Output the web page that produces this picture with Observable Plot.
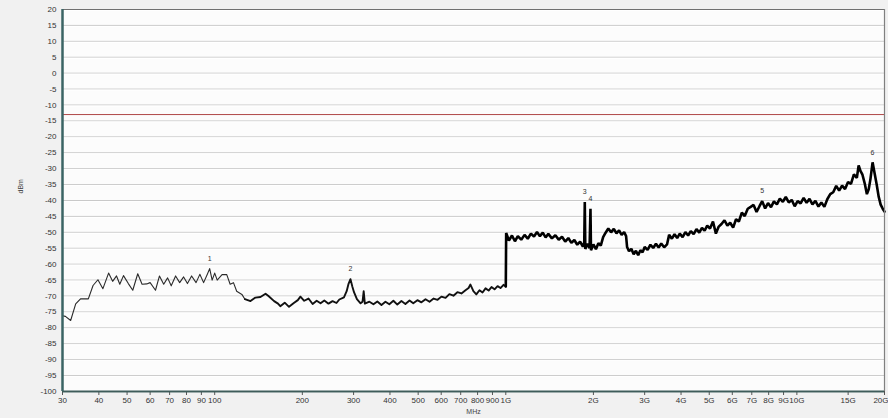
<!DOCTYPE html>
<html>
<head>
<meta charset="utf-8">
<script src="https://cdn.jsdelivr.net/npm/d3@7"></script>
<script src="https://cdn.jsdelivr.net/npm/@observablehq/plot@0.6"></script>
<style>
  html, body { margin: 0; padding: 0; background: #f1f1f1; }
  #chart { width: 888px; height: 418px; }
</style>
</head>
<body>
<div id="chart"></div>
<script>
// ---- data (frequency in MHz, level in dBm) ----
const xTickValues = [30,40,50,60,70,80,90,100,200,300,400,500,600,700,800,900,1000,2000,3000,4000,5000,6000,7000,8000,9000,10000,15000,20000];
const xTickLabels = ["30","40","50","60","70","80","90","100","200","300","400","500","600","700","800","900","1G","2G","3G","4G","5G","6G","7G","8G","9G","10G","15G","20G"];
const yTickValues = [20,15,10,5,0,-5,-10,-15,-20,-25,-30,-35,-40,-45,-50,-55,-60,-65,-70,-75,-80,-85,-90,-95,-100];
const limitLevel = [-13];

// 30 MHz – 125 MHz (thin trace)
const lowBand = [
  [30,-76.2],[30.7,-76.4],[32,-77.7],[33.3,-72.5],[34.6,-70.9],[36.8,-70.9],[38.2,-66.7],[39.7,-64.9],
  [41.3,-67.7],[43.2,-62.8],[44.6,-65.4],[46,-63.7],[47.2,-66.3],[48.6,-63.6],[50.5,-66.1],[52.3,-68.2],
  [54.4,-63.0],[56.3,-66.3],[58.4,-66.2],[60,-65.8],[62.6,-68.2],[64.6,-63.7],[66.8,-66.3],[68.9,-64.3],
  [70.9,-66.8],[73.4,-63.7],[75.8,-65.8],[78.2,-64.0],[80.6,-66.1],[83.3,-63.7],[86.3,-65.8],[88.9,-63.2],
  [91.6,-65.8],[94.5,-63.0],[96.1,-61.4],[98,-65.0],[100,-62.8],[102,-65.0],[106,-63.3],[110,-63.3],
  [113,-66.3],[116,-65.8],[119,-68.5],[124,-69.5],[127,-71.0]
];

// 125 MHz – 1 GHz
const midBand = [
  [127,-71.0],[132.7,-71.6],[138,-70.5],[143.6,-70.3],[149.5,-69.3],[153,-70.0],[160,-71.6],[165,-72.4],
  [168,-73.2],[174,-72.1],[180,-73.4],[187,-72.2],[193,-71.3],[197,-70.2],[203,-71.5],[210,-70.8],
  [217,-72.5],[224,-71.5],[231,-72.3],[238,-71.4],[246,-72.4],[254,-71.6],[262,-72.2],[268,-71.1],
  [278,-70.4],[284,-68.5],[288,-66.3],[292.7,-64.7],[297,-67.0],[301,-68.8],[308,-71.0],[317,-72.3],
  [322,-71.8],[325,-68.5],[328,-72.4],[340,-71.8],[351,-72.6],[362,-71.7],[374,-72.8],[386,-71.8],
  [398,-72.6],[411,-71.5],[424,-72.7],[438,-71.6],[452,-72.5],[467,-71.4],[481,-72.3],[497,-71.3],
  [513,-72.0],[530,-71.0],[547,-71.8],[565,-70.8],[583,-71.2],[601,-70.2],[621,-70.6],[640,-69.4],
  [661,-69.9],[682,-68.8],[704,-69.2],[727,-68.2],[745,-67.5],[756,-66.4],[774,-68.5],[792,-69.5],
  [812,-68.2],[832,-68.9],[852,-67.6],[873,-68.3],[893,-67.2],[915,-67.9],[937,-66.9],[959,-67.5],
  [982,-66.5],[1000,-67.0]
];

// 1 GHz – 20 GHz
const highBand = [
  [1000,-67.0],[1003,-50.2],[1025,-52.6],[1050,-51.0],[1075,-52.8],[1100,-51.2],[1130,-52.3],[1160,-50.8],
  [1190,-52.0],[1220,-50.4],[1250,-51.3],[1280,-49.9],[1310,-51.2],[1340,-50.1],[1370,-51.6],[1400,-50.5],
  [1440,-51.9],[1480,-50.9],[1520,-52.3],[1560,-51.4],[1600,-52.9],[1640,-51.8],[1680,-53.3],[1720,-52.4],
  [1760,-53.9],[1800,-52.9],[1840,-54.5],[1860,-53.2],[1868,-40.5],[1876,-55.2],[1910,-53.6],[1940,-55.0],
  [1954,-42.6],[1962,-55.6],[2000,-53.8],[2040,-55.3],[2080,-53.4],[2120,-54.2],[2160,-51.5],[2200,-50.2],
  [2250,-48.8],[2300,-50.0],[2350,-48.9],[2400,-50.3],[2450,-49.4],[2500,-50.8],[2550,-49.9],[2590,-51.2],
  [2610,-54.6],[2650,-55.9],[2700,-55.2],[2750,-56.9],[2800,-55.8],[2850,-57.2],[2900,-55.6],[2950,-56.3],
  [3000,-54.6],[3070,-55.5],[3140,-53.9],[3210,-54.9],[3280,-53.6],[3350,-54.8],[3420,-53.5],[3500,-54.7],
  [3580,-53.8],[3640,-50.8],[3720,-52.0],[3800,-50.6],[3880,-51.8],[3960,-50.4],[4050,-51.5],[4140,-49.9],
  [4230,-51.0],[4320,-49.6],[4420,-50.6],[4520,-49.0],[4620,-50.1],[4720,-48.6],[4820,-49.5],[4920,-47.9],
  [5030,-48.8],[5150,-46.6],[5270,-50.4],[5390,-48.2],[5510,-47.4],[5640,-46.2],[5770,-47.9],[5900,-47.0],
  [6040,-48.5],[6180,-45.9],[6320,-46.6],[6470,-43.8],[6620,-44.9],[6780,-42.6],[6940,-42.0],[7100,-41.4],
  [7270,-43.6],[7440,-41.8],[7600,-40.2],[7780,-42.5],[7960,-40.8],[8150,-42.1],[8340,-40.3],[8540,-41.2],
  [8740,-39.4],[8950,-40.4],[9160,-38.9],[9380,-40.6],[9600,-39.8],[9830,-41.8],[10060,-40.2],[10300,-40.9],
  [10550,-39.2],[10800,-40.7],[11050,-39.5],[11310,-41.2],[11580,-40.1],[11860,-41.9],[12140,-40.6],[12430,-42.0],
  [12720,-39.6],[13020,-38.0],[13330,-37.4],[13650,-35.4],[13970,-36.9],[14300,-35.3],[14640,-36.4],[14990,-34.2],
  [15340,-34.8],[15700,-31.8],[16070,-32.9],[16300,-29.0],[16550,-30.8],[16800,-31.9],[17100,-34.6],[17400,-38.0],
  [17650,-36.5],[17900,-33.2],[18200,-28.0],[18500,-31.5],[18800,-35.0],[19100,-38.8],[19400,-41.3],[19700,-42.5],
  [20000,-43.5]
];

const markerNames = ["1","2","3","4","5","6"];
const markerFreq  = [96.1, 292.7, 1868, 1954, 7600, 18200];
const markerLevel = [-61.4, -64.7, -40.5, -42.6, -40.2, -28.0];

// ---- build ----
const toRows = arr => arr.map(([f, v]) => ({f, v}));
const markers = markerNames.map((n, i) => ({n, f: markerFreq[i], v: markerLevel[i]}));
const xLabels = xTickValues.map((f, i) => ({f, t: xTickLabels[i], last: i === xTickValues.length - 1}));
const font = "'Liberation Sans', Arial, sans-serif";

const chart = Plot.plot({
  width: 888,
  height: 418,
  marginLeft: 62,
  marginRight: 4,
  marginTop: 9,
  marginBottom: 27,
  style: {background: "transparent", fontFamily: font, fontSize: "8px", color: "#333"},
  x: {type: "log", domain: [30, 20000]},
  y: {domain: [-100, 20]},
  marks: [
    Plot.frame({fill: "#fcfcfc", stroke: null}),
    Plot.ruleY(yTickValues, {stroke: "#c9c9c9", strokeWidth: 1}),
    Plot.ruleY(yTickValues, {stroke: "#ffffff", strokeWidth: 1, dy: 1}),
    Plot.ruleY(limitLevel, {stroke: "#b04848", strokeWidth: 1}),
    Plot.line(toRows(lowBand), {x: "f", y: "v", stroke: "#2a2a2a", strokeWidth: 1.1}),
    Plot.line(toRows(midBand), {x: "f", y: "v", stroke: "#111", strokeWidth: 1.9}),
    Plot.line(toRows(highBand), {x: "f", y: "v", stroke: "#000", strokeWidth: 2.6, strokeLinejoin: "miter"}),
    Plot.text(markers, {x: "f", y: "v", text: "n", dy: -10, fontSize: 7, fill: "#333"}),
    Plot.axisY({ticks: yTickValues, tickSize: 0, tickPadding: 6, tickFormat: d => String(d), label: null, fontSize: 8, fill: "#333"}),
    Plot.axisX({ticks: xTickValues, tickSize: 4, tickFormat: () => "", label: null, stroke: "#555"}),
    Plot.text(xLabels.filter(d => !d.last), {x: "f", text: "t", frameAnchor: "bottom", dy: 11, fontSize: 8, fill: "#333"}),
    Plot.text(xLabels.filter(d => d.last), {x: "f", text: "t", frameAnchor: "bottom", dy: 11, dx: 4, textAnchor: "end", fontSize: 8, fill: "#333"}),
    Plot.ruleY([20], {stroke: "#707070", strokeWidth: 1}),
    Plot.ruleX([20000], {stroke: "#808080", strokeWidth: 1.2}),
    Plot.ruleY([-100], {stroke: "#3e5c5a", strokeWidth: 2}),
    Plot.ruleX([30], {stroke: "#3b6464", strokeWidth: 2.5}),
    Plot.text(["MHz"], {text: d => d, frameAnchor: "bottom", dy: 22, fontSize: 7, fill: "#444"}),
    Plot.text(["dBm"], {text: d => d, frameAnchor: "left", dx: -42, dy: -7, rotate: -90, fontSize: 7, fill: "#444"})
  ]
});
document.getElementById("chart").appendChild(chart);
</script>
</body>
</html>
